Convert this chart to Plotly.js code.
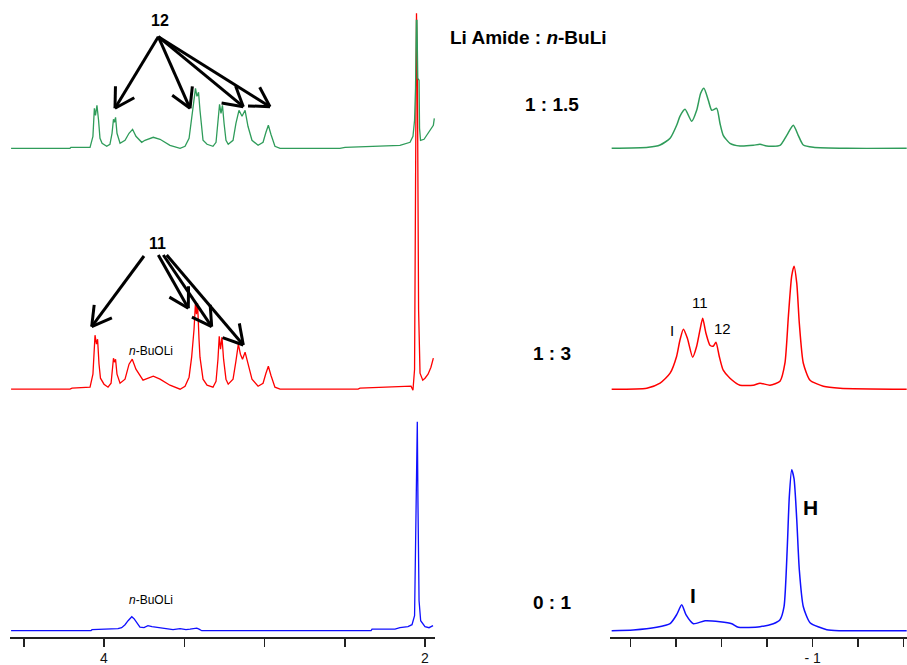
<!DOCTYPE html>
<html>
<head>
<meta charset="utf-8">
<script src="https://cdn.plot.ly/plotly-3.0.1.min.js"></script>
<style>html,body{margin:0;padding:0;background:#fff;}#chart{width:907px;height:665px;}</style>
</head>
<body>
<div id="chart"></div>
<script>
// ---------- data (ppm, intensity) ----------
var ratioLabels = ["1 : 1.5", "1 : 3", "0 : 1"];
var leftTickVals = [4.5, 4, 3.5, 3, 2.5, 2];
var leftTickText = ["", "4", "", "", "", "2"];
var rightTickVals = [0, -0.25, -0.5, -0.75, -1, -1.25, -1.5];
var rightTickText = ["", "", "", "", "- 1", "", ""];

// 1:1.5 spectrum (green), left region
var greenLeftPpm = [4.579,4.212,4.206,4.087,4.069,4.060,4.053,4.044,4.034,4.025,4.012,3.983,3.963,3.950,3.941,3.935,3.928,3.919,3.900,3.869,3.844,3.822,3.801,3.765,3.745,3.693,3.651,3.589,3.526,3.495,3.470,3.452,3.439,3.430,3.421,3.411,3.402,3.383,3.358,3.321,3.302,3.290,3.280,3.271,3.262,3.252,3.240,3.226,3.196,3.178,3.159,3.140,3.121,3.103,3.078,3.040,3.009,2.991,2.976,2.960,2.935,2.903,2.530,2.498,2.156,2.093,2.075,2.065,2.059,2.054,2.050,2.045,2.037,2.034,2.028,2.006,1.979,1.948,1.942];
var greenLeftInt = [0,0,1,1,12,40,33,43,28,10,5,2,4,15,29,26,31,15,5,8,15,19,12,6,8,11,9,3,0,2,10,32,45,60,52,56,38,8,4,2,6,25,44,35,43,25,8,4,8,25,38,32,38,22,8,3,6,16,23,14,2,0,0,1,3,6,12,28,60,128,128,70,68,20,8,9,15,23,30];

// 1:3 spectrum (red), left region
var redLeftPpm = [4.579,4.212,4.199,4.087,4.069,4.062,4.056,4.047,4.040,4.031,4.022,4.000,3.975,3.956,3.947,3.941,3.935,3.928,3.919,3.900,3.869,3.844,3.824,3.801,3.757,3.726,3.693,3.651,3.589,3.526,3.495,3.470,3.454,3.439,3.430,3.424,3.417,3.408,3.402,3.383,3.358,3.321,3.302,3.290,3.282,3.274,3.265,3.255,3.240,3.226,3.196,3.178,3.163,3.150,3.137,3.121,3.109,3.097,3.078,3.040,3.009,2.991,2.976,2.960,2.935,2.903,2.417,2.405,2.156,2.087,2.075,2.065,2.059,2.053,2.047,2.040,2.031,2.014,2.000,1.981,1.963,1.948];
var redLeftInt = [0,0,1,2,15,45,54,45,50,25,11,5,2,6,25,31,27,30,15,6,10,25,30,20,9,11,13,10,4,0,3,12,32,60,87,75,86,50,32,10,4,2,8,30,53,40,52,30,10,5,10,28,45,35,30,37,30,22,10,3,6,16,23,14,2,0,0,1,2,3,-1,20,200,376,300,80,16,9,11,15,22,31];

// 0:1 spectrum (blue), left region
var blueLeftPpm = [4.579,4.081,4.075,3.913,3.890,3.869,3.850,3.827,3.813,3.794,3.776,3.751,3.726,3.701,3.651,3.570,3.526,3.489,3.464,3.422,3.408,3.391,2.336,2.330,2.187,2.156,2.106,2.081,2.065,2.057,2.051,2.048,2.044,2.037,2.027,2.012,2.000,1.975,1.950];
var blueLeftInt = [0,0,1,2,3,6,10,14,12,7,3.5,3,5,4,3,1,2,1,1.5,2.5,1.5,0,0,1.5,1.5,3,4,6,15,100,200,209,130,30,10,6,4,3,5];

// right region
var greenRightPpm = [0.104,-0.097,-0.162,-0.217,-0.253,-0.271,-0.299,-0.336,-0.363,-0.385,-0.403,-0.427,-0.446,-0.473,-0.491,-0.509,-0.546,-0.601,-0.674,-0.711,-0.748,-0.821,-0.858,-0.894,-0.921,-0.949,-1.004,-1.187,-1.517];
var greenRightInt = [0,1,3.3,10,23,32,39,27,38,55,60,48,38,40,25,13,5,2.3,3,4,2.3,3,13,23,13,3.3,1,0,0];

var redRightPpm = [0.104,-0.089,-0.162,-0.217,-0.253,-0.271,-0.290,-0.312,-0.341,-0.363,-0.381,-0.396,-0.414,-0.436,-0.454,-0.469,-0.487,-0.509,-0.546,-0.601,-0.674,-0.711,-0.766,-0.821,-0.848,-0.867,-0.885,-0.898,-0.913,-0.927,-0.949,-0.986,-1.059,-1.151,-1.517];
var redRightInt = [0,1,6,16,33,49,60,51,32,43,59,71,56,44,43,47,33,19,11,4,4,6,4,8,26,73,113,123,106,66,26,9,3,1,0];

var blueRightPpm = [0.104,-0.015,-0.143,-0.217,-0.253,-0.281,-0.304,-0.345,-0.409,-0.491,-0.556,-0.592,-0.711,-0.784,-0.821,-0.843,-0.861,-0.872,-0.885,-0.898,-0.913,-0.927,-0.949,-0.986,-1.078,-1.151,-1.517];
var blueRightInt = [0,0.7,3.4,7,16,26,16,7,10,9,7,3.4,4,7,11,24,84,134,161,152,111,61,24,8,1,0,0];

// ---------- layout helpers ----------
var W = 907, H = 665, MT = 10, MB = 28;
var PLOT_BOTTOM = H - MB, PLOT_H = H - MT - MB;
var offsets = {green: PLOT_BOTTOM - 148.3, red: PLOT_BOTTOM - 389.2, blue: PLOT_BOTTOM - 630.7};
var colors = {green: '#2f9c5a', red: '#ff0000', blue: '#1010ff'};

function shift(arr, off) { return arr.map(function (v) { return v + off; }); }
function px(x) { return x / W; }
function py(y) { return (PLOT_BOTTOM - y) / PLOT_H; }

function spec(xs, ys, key, axis, smooth, lw) {
  return {
    type: 'scatter', mode: 'lines', x: xs, y: shift(ys, offsets[key]),
    xaxis: axis, yaxis: 'y', hoverinfo: 'skip',
    line: {color: colors[key], width: lw, shape: smooth ? 'spline' : 'linear', smoothing: 0.6}
  };
}

var data = [
  spec(blueLeftPpm, blueLeftInt, 'blue', 'x', false, 1.3),
  spec(redLeftPpm, redLeftInt, 'red', 'x', false, 1.3),
  spec(greenLeftPpm, greenLeftInt, 'green', 'x', false, 1.3),
  spec(blueRightPpm, blueRightInt, 'blue', 'x2', true, 1.5),
  spec(redRightPpm, redRightInt, 'red', 'x2', true, 1.5),
  spec(greenRightPpm, greenRightInt, 'green', 'x2', true, 1.5)
];

var FONT = 'Liberation Sans, Arial, sans-serif';
function label(text, x, y, size, color) {
  return {xref: 'paper', yref: 'paper', x: px(x), y: py(y), text: text, showarrow: false,
          xanchor: 'center', yanchor: 'middle', font: {family: FONT, size: size, color: color || '#000'}};
}

var annotations = [
  label('<b>Li Amide : <i>n</i>-BuLi</b>', 528, 37, 19),
  label('<b>' + ratioLabels[0] + '</b>', 552, 104, 19),
  label('<b>' + ratioLabels[1] + '</b>', 552, 353, 19),
  label('<b>' + ratioLabels[2] + '</b>', 552, 602, 19),
  label('<b>12</b>', 160, 20, 16),
  label('<b>11</b>', 157, 243, 16),
  label('<i>n</i>-BuOLi', 151, 351, 12),
  label('<i>n</i>-BuOLi', 151, 600, 12),
  label('I', 672, 330, 15),
  label('11', 700, 302, 15),
  label('12', 722, 328, 15),
  label('<b>H</b>', 810, 507, 21),
  label('<b>I</b>', 693, 595, 21)
];

// arrows (tail -> head), pixel positions of the drawn arrows
var arrows = [
  [158.3, 36.7, 115, 108.3], [158.3, 36.7, 190, 108.3], [158.3, 36.7, 243.3, 106.7], [158.3, 36.7, 270, 106.7],
  [144, 256, 91.7, 326.7], [158.3, 255, 188.3, 308.3], [163.3, 255, 211.7, 326.7], [166.7, 255, 243.3, 345]
];
var shapes = [];
function seg(x0, y0, x1, y1) {
  shapes.push({type: 'line', xref: 'paper', yref: 'paper', x0: px(x0), y0: py(y0), x1: px(x1), y1: py(y1),
               line: {color: '#000', width: 3}, layer: 'above'});
}
arrows.forEach(function (a) {
  var tx = a[0], ty = a[1], hx = a[2], hy = a[3];
  seg(tx, ty, hx, hy);
  var dx = tx - hx, dy = ty - hy, L = Math.sqrt(dx * dx + dy * dy);
  var ux = dx / L, uy = dy / L, len = 22, ang = 30 * Math.PI / 180;
  [ang, -ang].forEach(function (t) {
    var rx = ux * Math.cos(t) - uy * Math.sin(t), ry = ux * Math.sin(t) + uy * Math.cos(t);
    seg(hx, hy, hx + rx * len, hy + ry * len);
  });
});

var axisCommon = {
  showgrid: false, zeroline: false, showline: true, linecolor: '#222', linewidth: 1.5,
  ticks: 'outside', ticklen: 8, tickwidth: 1.5, tickcolor: '#222', tickmode: 'array',
  tickfont: {family: FONT, size: 14, color: '#111'}, anchor: 'y', fixedrange: true
};

var layout = {
  width: W, height: H, margin: {l: 0, r: 0, t: MT, b: MB, pad: 0},
  paper_bgcolor: '#fff', plot_bgcolor: '#fff', showlegend: false,
  xaxis: Object.assign({}, axisCommon, {domain: [10 / W, 435 / W], range: [4.5857, 1.9377],
          tickvals: leftTickVals, ticktext: leftTickText}),
  xaxis2: Object.assign({}, axisCommon, {domain: [610 / W, 1], range: [0.1132, -1.5187],
          tickvals: rightTickVals, ticktext: rightTickText}),
  yaxis: {range: [0, PLOT_H], visible: false, fixedrange: true},
  annotations: annotations,
  shapes: shapes
};

Plotly.newPlot('chart', data, layout, {staticPlot: true, displayModeBar: false});
</script>
</body>
</html>
